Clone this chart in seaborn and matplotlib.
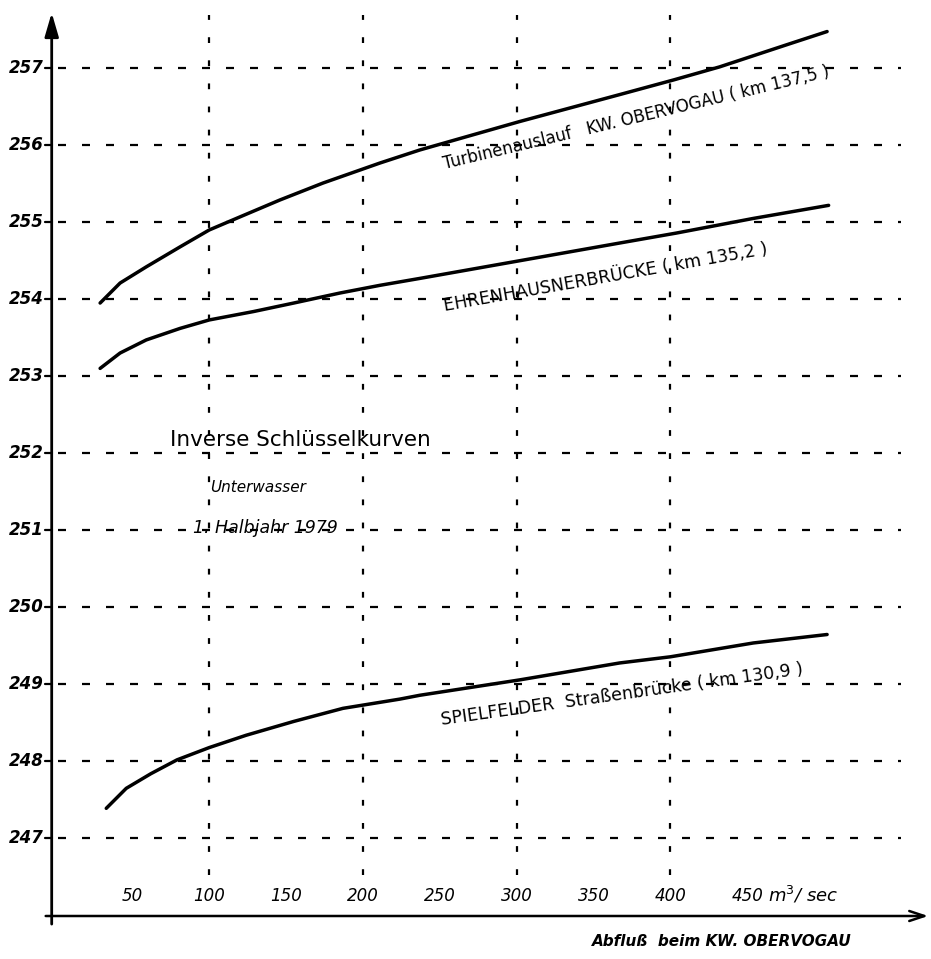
import pandas as pd
import seaborn as sns
import matplotlib.pyplot as plt

# Discharge at the power station (m^3/s) and the corresponding water levels (m a.s.l.)
q_turbine = [29, 42, 59, 81, 100, 120, 146, 174, 211, 237, 302, 367, 402, 432, 476, 502]
h_turbine = [253.95, 254.21, 254.42, 254.68, 254.90, 255.07, 255.29, 255.51, 255.77,
             255.94, 256.31, 256.66, 256.85, 257.02, 257.31, 257.48]

q_ehrenhausen = [29, 42, 59, 81, 100, 129, 155, 185, 211, 237, 302, 367, 404, 454, 503]
h_ehrenhausen = [253.10, 253.30, 253.47, 253.62, 253.73, 253.84, 253.95, 254.08, 254.18,
                 254.27, 254.50, 254.73, 254.86, 255.05, 255.22]

q_spielfeld = [33, 46, 62, 79, 100, 124, 155, 187, 224, 237, 302, 367, 400, 454, 502]
h_spielfeld = [247.38, 247.64, 247.83, 248.01, 248.17, 248.33, 248.51, 248.68, 248.80,
               248.85, 249.05, 249.27, 249.35, 249.53, 249.64]

curve_names = ["Turbinenauslauf", "Ehrenhausnerbrücke", "Spielfelder Straßenbrücke"]

x_tick_values = [50, 100, 150, 200, 250, 300, 350, 400, 450]
x_tick_labels = ["50", "100", "150", "200", "250", "300", "350", "400", "450"]
y_tick_values = [247, 248, 249, 250, 251, 252, 253, 254, 255, 256, 257]
y_tick_labels = ["247", "248", "249", "250", "251", "252", "253", "254", "255", "256", "257"]
x_grid_values = [100, 200, 300, 400]

df = pd.concat([
    pd.DataFrame({"Q": q_turbine, "H": h_turbine, "Kurve": curve_names[0]}),
    pd.DataFrame({"Q": q_ehrenhausen, "H": h_ehrenhausen, "Kurve": curve_names[1]}),
    pd.DataFrame({"Q": q_spielfeld, "H": h_spielfeld, "Kurve": curve_names[2]}),
])

sns.set_theme(style="white")
plt.rcParams["font.family"] = ["DejaVu Sans"]
plt.rcParams["text.color"] = "black"

fig = plt.figure(figsize=(9.31, 9.59), dpi=100)
ax = fig.add_axes([51.7 / 931, 43 / 959, (931 - 51.7) / 931, (916 - 10) / 959])
ax.set_xlim(-2.5, 569.6)
ax.set_ylim(245.98, 257.76)
ax.patch.set_alpha(0)

# dashed grid
ax.hlines(y_tick_values, 1.6, 550, colors="black", linewidth=1.6,
          linestyles=[(0, (3.6, 7.2))], zorder=1)
ax.vlines(x_grid_values, 246.51, 257.70, colors="black", linewidth=1.6,
          linestyles=[(0, (2.6, 7.8))], zorder=1)

sns.lineplot(data=df, x="Q", y="H", hue="Kurve", units="Kurve", estimator=None,
             palette=["black"] * 3, linewidth=2.5, legend=False, sort=True, ax=ax,
             zorder=3)
for ln in ax.get_lines():
    ln.set_solid_capstyle("round")
    ln.set_solid_joinstyle("round")

for s in ax.spines.values():
    s.set_visible(False)
ax.set_xticks([])
ax.set_yticks([])
ax.set_xlabel("")
ax.set_ylabel("")

# axes drawn as arrows
ax.annotate("", xy=(0, 1.0), xytext=(0, -0.012), xycoords="axes fraction",
            arrowprops=dict(arrowstyle="-|>,head_length=1.2,head_width=0.35",
                            color="black", lw=2.0), annotation_clip=False)
ax.annotate("", xy=(1.0, 0), xytext=(-0.01, 0), xycoords="axes fraction",
            arrowprops=dict(arrowstyle="->,head_length=0.9,head_width=0.3",
                            color="black", lw=1.8), annotation_clip=False)

# y tick marks and labels
for v, lab in zip(y_tick_values, y_tick_labels):
    ax.plot([-7, -2.5], [v, v], color="black", lw=1.6, clip_on=False)
    ax.text(-7.5, v, lab, ha="right", va="center", fontsize=12, style="italic",
            fontweight="bold")

# x tick labels sit above the axis line
for v, lab in zip(x_tick_values, x_tick_labels):
    ax.text(v, 246.24, lab, ha="center", va="center", fontsize=12, style="italic")
ax.text(463.5, 246.26, "m$^{3}$/ sec", ha="left", va="center", fontsize=13,
        style="italic")

fig.text(592 / 931, 1 - 941 / 959, "Abfluß  beim KW. OBERVOGAU",
         ha="left", va="center", fontsize=11, style="italic", fontweight="bold")

# curve labels below the lines
fig.text(636 / 931, 1 - 118 / 959, "Turbinenauslauf   KW. OBERVOGAU ( km 137,5 )",
         ha="center", va="center", rotation=13.5, fontsize=12)
fig.text(606 / 931, 1 - 278 / 959, "EHRENHAUSNERBRÜCKE ( km 135,2 )",
         ha="center", va="center", rotation=10, fontsize=12.5)
fig.text(622 / 931, 1 - 695 / 959, "SPIELFELDER  Straßenbrücke ( km 130,9 )",
         ha="center", va="center", rotation=8, fontsize=12.5)

# title block
fig.text(170 / 931, 1 - 440 / 959, "Inverse Schlüsselkurven", ha="left", va="center",
         fontsize=15.5)
fig.text(210 / 931, 1 - 487 / 959, "Unterwasser", ha="left", va="center",
         fontsize=11, style="italic")
fig.text(193 / 931, 1 - 528 / 959, "1. Halbjahr 1979", ha="left", va="center",
         fontsize=12.5, style="italic")

fig.savefig("out.png", dpi=100, facecolor="white")
